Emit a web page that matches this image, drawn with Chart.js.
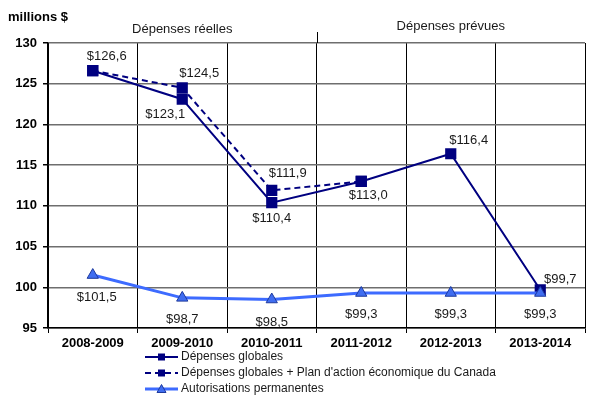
<!DOCTYPE html>
<html>
<head>
<meta charset="utf-8">
<script src="https://cdn.jsdelivr.net/npm/chart.js@4/dist/chart.umd.min.js"></script>
<style>
  html, body { margin: 0; padding: 0; background: #fff; }
  #wrap { width: 595px; height: 405px; position: relative; }
</style>
</head>
<body>
<div id="wrap"><canvas id="chart" width="595" height="405"></canvas></div>
<script>
const categories = ['2008-2009', '2009-2010', '2010-2011', '2011-2012', '2012-2013', '2013-2014'];
const depensesGlobales = [126.6, 123.1, 110.4, 113.0, 116.4, 99.7];
const depensesPlanAction = [126.6, 124.5, 111.9, 113.0, null, null];
const autorisationsPermanentes = [101.5, 98.7, 98.5, 99.3, 99.3, 99.3];
const seriesNames = [
  'Dépenses globales',
  'Dépenses globales + Plan d\'action économique du Canada',
  'Autorisations permanentes'
];
const periodHeaders = ['Dépenses réelles', 'Dépenses prévues'];
const yMin = 95, yMax = 130, yStep = 5;

const FONT = '"Liberation Sans", Arial, sans-serif';
const NAVY = '#000080';
const BLUE = '#3d6bff';

// label offsets (dx, dy) from each point; null = no label
const labelOffsets = [
  [[14, -14], [-17, 15], [0, 16], [7, 14], [18, -13], [20, -10]],
  [null, [17, -14], [16, -17], null, null, null],
  [[4, 22], [0, 22], [0, 23], [0, 21], [0, 21], [0, 21]]
];

const fmt = v => '$' + v.toFixed(1).replace('.', ',');

const extras = {
  id: 'extras',
  afterDatasetsDraw(chart) {
    const { ctx, chartArea, scales } = chart;
    const x = scales.x;
    ctx.save();

    // data labels
    ctx.font = '13px ' + FONT;
    ctx.fillStyle = '#1a1a1a';
    ctx.textAlign = 'center';
    ctx.textBaseline = 'middle';
    chart.data.datasets.forEach((ds, di) => {
      const meta = chart.getDatasetMeta(di);
      meta.data.forEach((pt, i) => {
        const off = labelOffsets[di][i];
        if (!off || ds.data[i] == null) return;
        ctx.fillText(fmt(ds.data[i]), pt.x + off[0], pt.y + off[1]);
      });
    });

    // separator between actual and planned, extended above the plot
    const sepX = (x.getPixelForValue(2) + x.getPixelForValue(3)) / 2;
    ctx.strokeStyle = '#000';
    ctx.lineWidth = 1;
    ctx.beginPath();
    ctx.moveTo(Math.round(sepX) + 0.5, chartArea.top - 11);
    ctx.lineTo(Math.round(sepX) + 0.5, chartArea.top);
    ctx.stroke();

    // period headers
    ctx.font = '13px ' + FONT;
    ctx.fillStyle = '#1a1a1a';
    ctx.fillText(periodHeaders[0], x.getPixelForValue(1), chartArea.top - 14);
    ctx.fillText(periodHeaders[1], x.getPixelForValue(4), chartArea.top - 17);

    // unit title
    ctx.font = 'bold 13px ' + FONT;
    ctx.fillStyle = '#000';
    ctx.textAlign = 'left';
    ctx.fillText('millions $', 8, 17);

    // legend
    const lx = 145, rows = [357, 373, 389];
    chart.data.datasets.forEach((ds, di) => {
      const y = rows[di];
      ctx.strokeStyle = ds.borderColor;
      ctx.lineWidth = ds.borderWidth;
      ctx.setLineDash(ds.borderDash || []);
      ctx.beginPath();
      ctx.moveTo(lx, y);
      ctx.lineTo(lx + 33, y);
      ctx.stroke();
      ctx.setLineDash([]);
      const cx = lx + 16.5;
      ctx.fillStyle = ds.pointBackgroundColor;
      if (ds.pointStyle === 'rect') {
        ctx.fillRect(cx - 3.5, y - 3.5, 7, 7);
      } else {
        ctx.beginPath();
        ctx.moveTo(cx, y - 4.5);
        ctx.lineTo(cx + 4.5, y + 3.5);
        ctx.lineTo(cx - 4.5, y + 3.5);
        ctx.closePath();
        ctx.fill();
        ctx.strokeStyle = ds.pointBorderColor;
        ctx.lineWidth = 1;
        ctx.stroke();
      }
      ctx.font = '12px ' + FONT;
      ctx.fillStyle = '#1a1a1a';
      ctx.textAlign = 'left';
      ctx.fillText(seriesNames[di], lx + 36, y);
    });

    ctx.restore();
  }
};

new Chart(document.getElementById('chart'), {
  type: 'line',
  data: {
    labels: categories,
    datasets: [
      {
        label: seriesNames[0],
        data: depensesGlobales,
        borderColor: NAVY,
        backgroundColor: NAVY,
        borderWidth: 2,
        pointStyle: 'rect',
        pointRadius: 6.5,
        pointBackgroundColor: NAVY,
        pointBorderColor: NAVY,
        tension: 0,
        order: 2
      },
      {
        label: seriesNames[1],
        data: depensesPlanAction,
        borderColor: NAVY,
        backgroundColor: NAVY,
        borderWidth: 2,
        borderDash: [6, 4],
        pointStyle: 'rect',
        pointRadius: 6.5,
        pointBackgroundColor: NAVY,
        pointBorderColor: NAVY,
        tension: 0,
        spanGaps: false,
        order: 3
      },
      {
        label: seriesNames[2],
        data: autorisationsPermanentes,
        borderColor: BLUE,
        backgroundColor: BLUE,
        borderWidth: 3,
        pointStyle: 'triangle',
        pointRadius: 6.5,
        pointBackgroundColor: '#3f6df0',
        pointBorderColor: '#1e3a9e',
        pointBorderWidth: 1,
        tension: 0,
        order: 1
      }
    ]
  },
  options: {
    responsive: false,
    animation: false,
    layout: { padding: { top: 43, right: 10, left: 0, bottom: 0 } },
    plugins: {
      legend: { display: false },
      tooltip: { enabled: false }
    },
    scales: {
      x: {
        offset: true,
        grid: {
          offset: true,
          color: '#000',
          lineWidth: 1,
          tickLength: 5,
          drawTicks: true
        },
        border: { color: '#000', width: 1.5 },
        ticks: {
          color: '#000',
          font: { family: FONT, size: 13, weight: 'bold' },
          padding: 3,
          maxRotation: 0
        },
        afterFit(scale) { scale.height = 77; }
      },
      y: {
        min: yMin,
        max: yMax,
        ticks: {
          stepSize: yStep,
          color: '#000',
          font: { family: FONT, size: 13, weight: 'bold' },
          padding: 6
        },
        grid: {
          color: '#6e6e6e',
          lineWidth: 1.5,
          tickLength: 5,
          tickColor: '#000'
        },
        border: { color: '#000', width: 1.5 },
        afterFit(scale) { scale.width = 48; }
      }
    }
  },
  plugins: [extras]
});
</script>
</body>
</html>
